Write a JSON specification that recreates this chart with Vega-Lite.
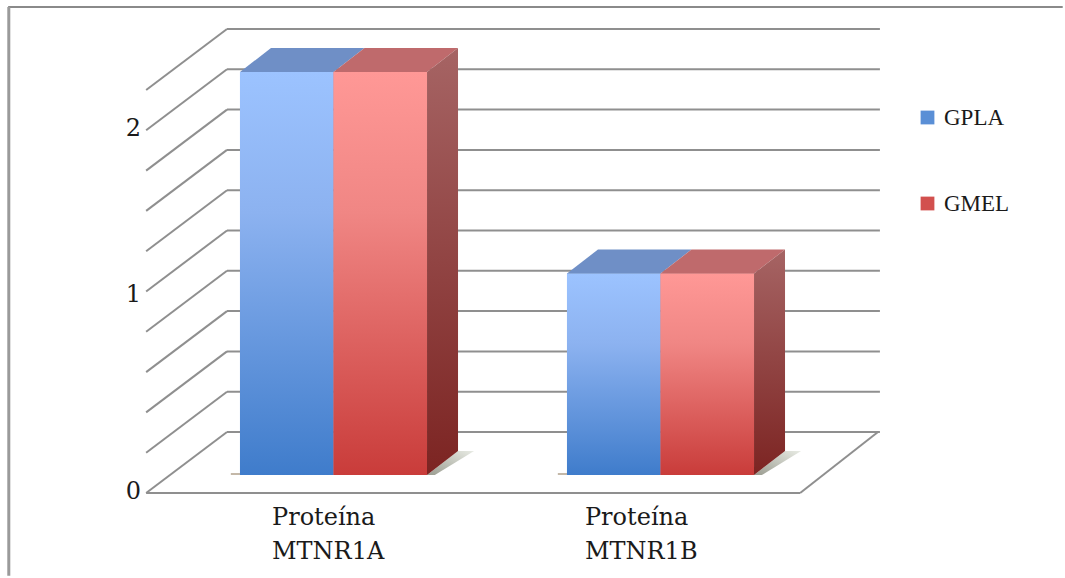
{
  "$schema": "https://vega.github.io/schema/vega-lite/v6.json",
  "width": 1065,
  "height": 578,
  "autosize": {"type": "fit", "contains": "padding"},
  "padding": 0,
  "background": "#ffffff",
  "config": {"view": {"stroke": null}, "axis": {"disable": true}},
  "datasets": {
    "barras": [
      {"proteina": "MTNR1A", "indice": 0, "grupo": "GPLA", "valor": 2},
      {"proteina": "MTNR1A", "indice": 0, "grupo": "GMEL", "valor": 2},
      {"proteina": "MTNR1B", "indice": 1, "grupo": "GPLA", "valor": 1},
      {"proteina": "MTNR1B", "indice": 1, "grupo": "GMEL", "valor": 1}
    ],
    "rejilla": [
      {"nivel": 0}, {"nivel": 0.2}, {"nivel": 0.4}, {"nivel": 0.6}, {"nivel": 0.8}, {"nivel": 1},
      {"nivel": 1.2}, {"nivel": 1.4}, {"nivel": 1.6}, {"nivel": 1.8}, {"nivel": 2}
    ],
    "escala": [
      {"nivel": 0, "etiqueta": "0"},
      {"nivel": 0.98, "etiqueta": "1"},
      {"nivel": 1.8, "etiqueta": "2"}
    ],
    "categorias": [
      {"inicio": -0.188, "etiqueta": "Proteína\nMTNR1A"},
      {"inicio": 0.769, "etiqueta": "Proteína\nMTNR1B"}
    ]
  },
  "layer": [
    {
      "data": {"values": [{}]},
      "mark": {"type": "rule", "color": "#8a8a8a", "strokeWidth": 2},
      "encoding": {
        "x": {"datum": -0.995, "type": "quantitative", "scale": {"domain": [-1.0199, 2.237], "nice": false, "zero": false}},
        "x2": {"datum": 2.23},
        "y": {"datum": 2.322, "type": "quantitative", "scale": {"domain": [-0.5112, 2.3573], "nice": false, "zero": false}}
      }
    },
    {
      "data": {"values": [{}]},
      "mark": {"type": "rule", "color": "#9a9a9a", "strokeWidth": 3},
      "encoding": {
        "x": {"datum": -0.993, "type": "quantitative"},
        "y": {"datum": 2.322, "type": "quantitative"},
        "y2": {"datum": -0.5}
      }
    },
    {
      "data": {"name": "rejilla"},
      "mark": {"type": "rule", "color": "#8f8f8f", "strokeWidth": 2, "yOffset": -43},
      "encoding": {
        "x": {"datum": -0.3257, "type": "quantitative"},
        "x2": {"datum": 1.671},
        "y": {"field": "nivel", "type": "quantitative"}
      }
    },
    {
      "data": {"name": "rejilla"},
      "mark": {"type": "rule", "color": "#8f8f8f", "strokeWidth": 2, "yOffset": 18, "y2Offset": -43},
      "encoding": {
        "x": {"datum": -0.573, "type": "quantitative"},
        "x2": {"datum": -0.3257},
        "y": {"field": "nivel", "type": "quantitative"},
        "y2": {"field": "nivel"}
      }
    },
    {
      "data": {"values": [{"nivel": 0}]},
      "mark": {"type": "rule", "color": "#8f8f8f", "strokeWidth": 2, "yOffset": 18},
      "encoding": {
        "x": {"datum": -0.573, "type": "quantitative"},
        "x2": {"datum": 1.427},
        "y": {"field": "nivel", "type": "quantitative"}
      }
    },
    {
      "data": {"values": [{"nivel": 0}]},
      "mark": {"type": "rule", "color": "#8f8f8f", "strokeWidth": 2, "yOffset": 18, "y2Offset": -43},
      "encoding": {
        "x": {"datum": 1.427, "type": "quantitative"},
        "x2": {"datum": 1.665},
        "y": {"field": "nivel", "type": "quantitative"},
        "y2": {"field": "nivel"}
      }
    },
    {
      "data": {"name": "barras"},
      "transform": [
        {"calculate": "datum.indice + (datum.grupo === 'GPLA' ? -0.286 : 0)", "as": "izq"},
        {"calculate": "datum.izq + 0.286", "as": "der"},
        {"calculate": "[0, 1]", "as": "fondo"},
        {"flatten": ["fondo"]},
        {"calculate": "datum.izq + datum.fondo * 0.0948", "as": "izqFondo"},
        {"calculate": "datum.der + datum.fondo * 0.0948", "as": "derFondo"},
        {"calculate": "datum.valor + datum.fondo * 0.119", "as": "techo"},
        {"calculate": "datum.fondo * 0.119", "as": "base"},
        {"calculate": "datum.der + datum.fondo * 0.0948", "as": "sombraIzq"},
        {"calculate": "datum.der + 0.024 + datum.fondo * 0.12", "as": "sombraDer"},
        {"calculate": "datum.izq - 0.028", "as": "sombraBase"}
      ],
      "layer": [
        {
          "transform": [{"filter": "datum.grupo === 'GMEL'"}],
          "mark": {
            "type": "area",
            "orient": "horizontal",
            "color": {"gradient": "linear", "x1": 0, "y1": 1, "x2": 1, "y2": 0, "stops": [
              {"offset": 0, "color": "#9a9c90"},
              {"offset": 1, "color": "#e8ebe4"}
            ]}
          },
          "encoding": {
            "x": {"field": "sombraIzq", "type": "quantitative", "stack": null},
            "x2": {"field": "sombraDer"},
            "y": {"field": "base", "type": "quantitative"},
            "detail": {"field": "proteina"}
          }
        },
        {
          "transform": [{"filter": "datum.fondo === 0 && datum.grupo === 'GPLA'"}],
          "mark": {"type": "rule", "color": "#c4b8a8", "strokeWidth": 2, "yOffset": -1},
          "encoding": {
            "x": {"field": "sombraBase", "type": "quantitative"},
            "x2": {"field": "izq"},
            "y": {"field": "base", "type": "quantitative"}
          }
        },
        {
          "transform": [{"filter": "datum.fondo === 0"}],
          "mark": {"type": "rect"},
          "encoding": {
            "x": {"field": "izq", "type": "quantitative"},
            "x2": {"field": "der"},
            "y": {"field": "valor", "type": "quantitative"},
            "y2": {"field": "base"},
            "color": {
              "field": "grupo",
              "type": "nominal",
              "scale": {"domain": ["GPLA", "GMEL"], "range": ["#5a8fd6", "#d2504e"]},
              "legend": {
                "orient": "none",
                "legendX": 916,
                "legendY": 106,
                "title": null,
                "symbolType": "square",
                "symbolSize": 190,
                "symbolStrokeWidth": 0,
                "labelFont": "Liberation Serif",
                "labelFontSize": 23,
                "labelColor": "#1a1a1a",
                "labelOffset": 5,
                "rowPadding": 62
              }
            }
          }
        },
        {
          "transform": [{"filter": "datum.fondo === 0 && datum.grupo === 'GPLA'"}],
          "mark": {
            "type": "rect",
            "color": {"gradient": "linear", "x1": 0, "y1": 0, "x2": 0, "y2": 1, "stops": [
              {"offset": 0, "color": "#9cc3ff"},
              {"offset": 0.35, "color": "#8cb2f0"},
              {"offset": 1, "color": "#3f7ccb"}
            ]}
          },
          "encoding": {
            "x": {"field": "izq", "type": "quantitative"},
            "x2": {"field": "der"},
            "y": {"field": "valor", "type": "quantitative"},
            "y2": {"field": "base"}
          }
        },
        {
          "transform": [{"filter": "datum.fondo === 0 && datum.grupo === 'GMEL'"}],
          "mark": {
            "type": "rect",
            "color": {"gradient": "linear", "x1": 0, "y1": 0, "x2": 0, "y2": 1, "stops": [
              {"offset": 0, "color": "#ff9896"},
              {"offset": 0.35, "color": "#f08684"},
              {"offset": 1, "color": "#c93c3a"}
            ]}
          },
          "encoding": {
            "x": {"field": "izq", "type": "quantitative"},
            "x2": {"field": "der"},
            "y": {"field": "valor", "type": "quantitative"},
            "y2": {"field": "base"}
          }
        },
        {
          "transform": [{"filter": "datum.grupo === 'GPLA'"}],
          "mark": {"type": "area", "orient": "horizontal", "color": "#6f8fc6"},
          "encoding": {
            "x": {"field": "izqFondo", "type": "quantitative", "stack": null},
            "x2": {"field": "derFondo"},
            "y": {"field": "techo", "type": "quantitative"},
            "detail": {"field": "proteina"}
          }
        },
        {
          "transform": [{"filter": "datum.grupo === 'GMEL'"}],
          "mark": {"type": "area", "orient": "horizontal", "color": "#bf6a6c"},
          "encoding": {
            "x": {"field": "izqFondo", "type": "quantitative", "stack": null},
            "x2": {"field": "derFondo"},
            "y": {"field": "techo", "type": "quantitative"},
            "detail": {"field": "proteina"}
          }
        },
        {
          "transform": [{"filter": "datum.grupo === 'GMEL'"}],
          "mark": {
            "type": "area",
            "orient": "vertical",
            "color": {"gradient": "linear", "x1": 0, "y1": 0, "x2": 0, "y2": 1, "stops": [
              {"offset": 0, "color": "#a66464"},
              {"offset": 1, "color": "#7c2422"}
            ]}
          },
          "encoding": {
            "x": {"field": "derFondo", "type": "quantitative"},
            "y": {"field": "techo", "type": "quantitative", "stack": null},
            "y2": {"field": "base"},
            "detail": {"field": "proteina"}
          }
        }
      ]
    },
    {
      "data": {"name": "escala"},
      "mark": {"type": "text", "align": "center", "baseline": "middle", "font": "DejaVu Serif", "fontSize": 24, "color": "#1a1a1a", "yOffset": 17},
      "encoding": {
        "x": {"datum": -0.612, "type": "quantitative"},
        "y": {"field": "nivel", "type": "quantitative"},
        "text": {"field": "etiqueta"}
      }
    },
    {
      "data": {"name": "categorias"},
      "mark": {"type": "text", "align": "left", "baseline": "alphabetic", "lineBreak": "\n", "lineHeight": 34, "font": "DejaVu Serif", "fontSize": 24, "color": "#1a1a1a"},
      "encoding": {
        "x": {"field": "inicio", "type": "quantitative"},
        "y": {"datum": -0.25, "type": "quantitative"},
        "text": {"field": "etiqueta"}
      }
    }
  ]
}
